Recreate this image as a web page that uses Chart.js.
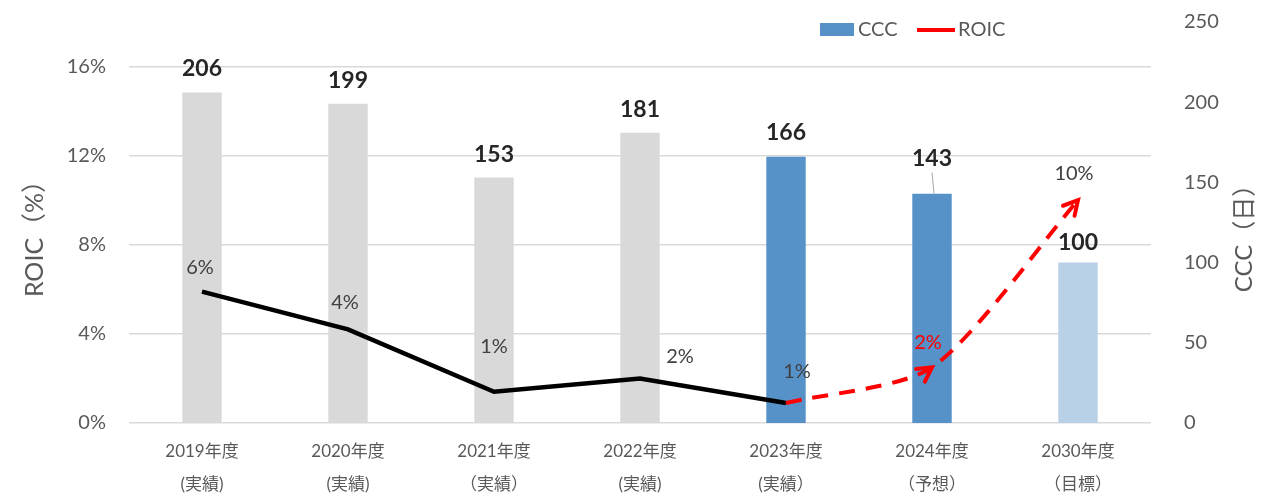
<!DOCTYPE html>
<html>
<head>
<meta charset="utf-8">
<script src="https://cdn.jsdelivr.net/npm/chart.js@4.4.1/dist/chart.umd.min.js"></script>
<style>
  html, body { margin: 0; padding: 0; background: #fff; }
</style>
</head>
<body>
<canvas id="chart" width="1262" height="493"></canvas>
<script>
// データ
const years = ["2019年度", "2020年度", "2021年度", "2022年度", "2023年度", "2024年度", "2030年度"];
const notes = ["(実績)", "(実績)", "（実績）", "(実績)", "(実績）", "（予想）", "（目標）"];
const cccDays = [206, 199, 153, 181, 166, 143, 100];
const roicActual = [5.9, 4.2, 1.4, 2.0, 0.9, null, null];
const roicPlan = [null, null, null, null, 0.9, 2.5, 10.0];
const roicText = ["6%", "4%", "1%", "2%", "1%", "2%", "10%"];

const FONT = 'Lato, "Noto Sans CJK JP", sans-serif';
const GRAY = "#d9d9d9", BLUE = "#5691c8", LIGHT = "#b8d1e7";

// ラベル・矢印・凡例・軸タイトル
const overlay = {
    id: "overlay",
    afterDatasetsDraw(chart, args, opts) {
        const ctx = chart.ctx;
        ctx.save();
        ctx.textAlign = "center";
        ctx.textBaseline = "middle";

        // 棒グラフの値
        const bars = chart.getDatasetMeta(0).data;
        ctx.font = "bold 23px " + FONT;
        ctx.fillStyle = "#262626";
        bars.forEach((b, i) => {
            const lift = opts.barLift[i];
            ctx.fillText(String(cccDays[i]), b.x, b.y - lift);
            if (lift > 30) { // 引き出し線
                ctx.strokeStyle = "#a6a6a6";
                ctx.lineWidth = 1;
                ctx.beginPath();
                ctx.moveTo(b.x, b.y - lift + 14);
                ctx.lineTo(b.x + 2, b.y);
                ctx.stroke();
            }
        });

        // ROICの値
        const act = chart.getDatasetMeta(1).data;
        const plan = chart.getDatasetMeta(2).data;
        ctx.font = "20px " + FONT;
        roicText.forEach((t, i) => {
            const p = i < 5 ? act[i] : plan[i];
            const off = opts.roicOffset[i];
            ctx.fillStyle = i === 5 ? "#ff0000" : "#404040";
            ctx.fillText(t, p.x + off[0], p.y + off[1]);
        });

        // 矢印
        ctx.strokeStyle = "#ff0000";
        ctx.lineWidth = 4;
        ctx.lineCap = "round";
        [5, 6].forEach(i => {
            const p = plan[i];
            const cx = (p.cp1x !== undefined && p.cp1x !== p.x) ? p.cp1x : plan[i - 1].x;
            const cy = (p.cp1y !== undefined && p.cp1x !== p.x) ? p.cp1y : plan[i - 1].y;
            const a = Math.atan2(p.y - cy, p.x - cx);
            const len = 16;
            ctx.beginPath();
            ctx.moveTo(p.x - len * Math.cos(a - 0.5), p.y - len * Math.sin(a - 0.5));
            ctx.lineTo(p.x, p.y);
            ctx.lineTo(p.x - len * Math.cos(a + 0.5), p.y - len * Math.sin(a + 0.5));
            ctx.stroke();
        });
        ctx.restore();
    },
    afterDraw(chart) {
        const ctx = chart.ctx;
        const area = chart.chartArea;
        ctx.save();
        // 凡例
        ctx.font = "20px " + FONT;
        ctx.textBaseline = "middle";
        ctx.textAlign = "left";
        ctx.fillStyle = BLUE;
        ctx.fillRect(820, 23, 34, 13);
        ctx.fillStyle = "#595959";
        ctx.fillText(chart.data.datasets[0].label, 858, 30);
        ctx.strokeStyle = "#ff0000";
        ctx.lineWidth = 4;
        ctx.beginPath();
        ctx.moveTo(917, 30);
        ctx.lineTo(955, 30);
        ctx.stroke();
        ctx.fillText(chart.data.datasets[2].label, 958, 30);

        // 軸タイトル
        const midY = (area.top + area.bottom) / 2 + 10;
        ctx.textAlign = "center";
        ctx.font = "25px " + FONT;
        ctx.translate(35, midY);
        ctx.rotate(-Math.PI / 2);
        ctx.fillText("ROIC（%）", 0, 0);
        ctx.setTransform(1, 0, 0, 1, 0, 0);
        ctx.font = "24px " + FONT;
        ctx.translate(1244, midY);
        ctx.rotate(-Math.PI / 2);
        ctx.fillText("CCC（日）", 0, 0);
        ctx.restore();
    }
};

new Chart(document.getElementById("chart").getContext("2d"), {
    type: "bar",
    data: {
        labels: years.map((y, i) => [y, notes[i]]),
        datasets: [
            {
                type: "bar",
                label: "CCC",
                data: cccDays,
                yAxisID: "y1",
                backgroundColor: [GRAY, GRAY, GRAY, GRAY, BLUE, BLUE, LIGHT],
                barPercentage: 0.27,
                categoryPercentage: 1,
                order: 2
            },
            {
                type: "line",
                label: "ROIC実績",
                data: roicActual,
                yAxisID: "y",
                borderColor: "#000000",
                borderWidth: 4.5,
                pointRadius: 0,
                tension: 0,
                spanGaps: false,
                order: 1
            },
            {
                type: "line",
                label: "ROIC",
                data: roicPlan,
                yAxisID: "y",
                borderColor: "#ff0000",
                borderWidth: 4,
                borderDash: [16, 11],
                pointRadius: 0,
                tension: 0.25,
                order: 0
            }
        ]
    },
    options: {
        responsive: false,
        animation: false,
        devicePixelRatio: 1,
        layout: { padding: { top: 22, left: 0, right: 0, bottom: 0 } },
        plugins: {
            legend: { display: false },
            tooltip: { enabled: false },
            overlay: {
                barLift: [24, 23, 23, 23, 24, 35, 20],
                roicOffset: [[-2, -24], [-3, -27], [0, -45], [40, -22], [11, -31], [-4, -25], [-4, -27]]
            }
        },
        scales: {
            x: {
                grid: { display: false },
                border: { display: false },
                ticks: {
                    color: "#595959",
                    padding: 4,
                    maxRotation: 0,
                    font: { family: FONT, size: 17, lineHeight: 1.95 }
                },
                afterFit: s => { s.height = 70; s.paddingLeft = 0; s.paddingRight = 0; }
            },
            y: {
                position: "left",
                min: 0,
                max: 18,
                grid: { color: "#d9d9d9", lineWidth: 1.5, drawTicks: false },
                border: { display: false },
                ticks: {
                    stepSize: 4,
                    padding: 23,
                    color: "#595959",
                    font: { family: FONT, size: 20 },
                    callback: v => v + "%"
                },
                afterBuildTicks: s => { s.ticks = s.ticks.filter(t => t.value % 4 === 0); },
                afterFit: s => { s.width = 129; s.paddingTop = 0; s.paddingBottom = 0; }
            },
            y1: {
                position: "right",
                min: 0,
                max: 250,
                grid: { display: false },
                border: { display: false },
                ticks: {
                    stepSize: 50,
                    padding: 25,
                    color: "#595959",
                    font: { family: FONT, size: 20 }
                },
                afterFit: s => { s.width = 111; s.paddingTop = 0; s.paddingBottom = 0; }
            }
        }
    },
    plugins: [overlay]
});
</script>
</body>
</html>
